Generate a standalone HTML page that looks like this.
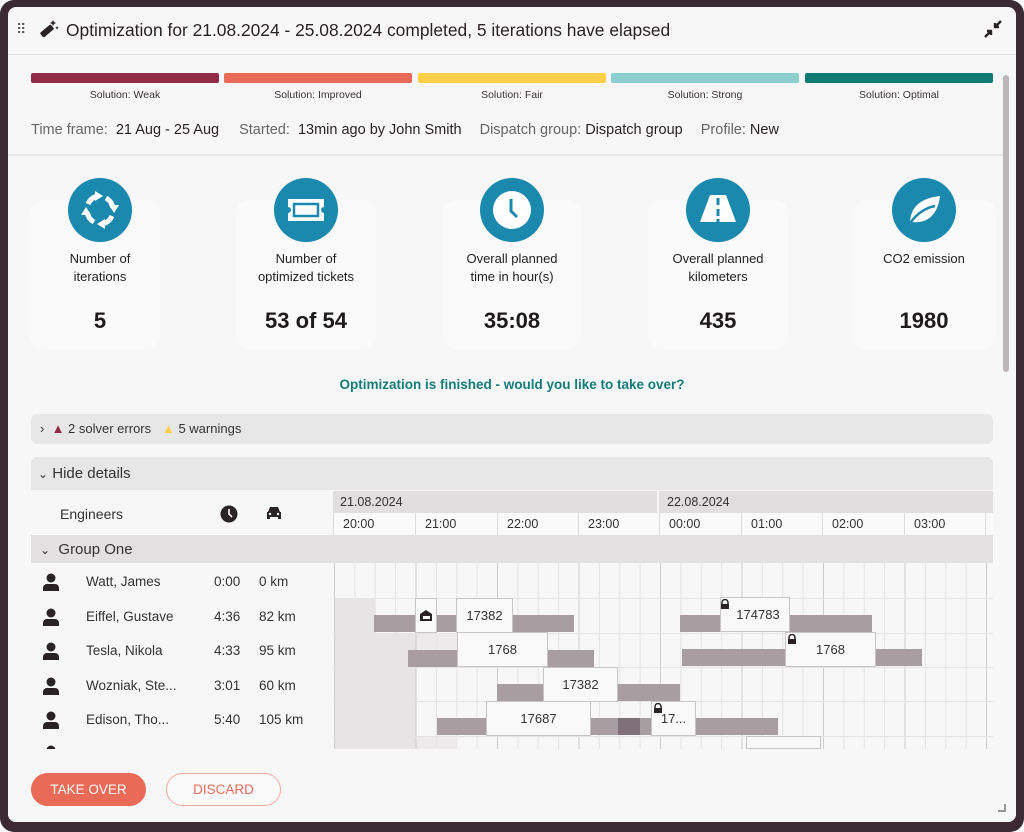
<!DOCTYPE html>
<html><head><meta charset="utf-8"><style>
*{margin:0;padding:0;box-sizing:border-box}
body{width:1024px;height:832px;background:#fff;font-family:"Liberation Sans",sans-serif;color:#2a2326;position:relative;overflow:hidden}
.frame{position:absolute;left:0;top:0;width:1024px;height:832px;background:#3b2a31;border-radius:14px}
.inner{position:absolute;left:8px;top:7px;width:1008px;height:815px;background:#f7f7f7;border-radius:8px;overflow:hidden}
.a{position:absolute}
.lg{position:absolute;top:66px;height:10px;border-radius:2px}
.ll{position:absolute;top:82px;width:188px;text-align:center;font-size:10.5px;color:#3a3236}
.card{position:absolute;top:193px;height:150px;background:#fafafa;border-radius:14px}
.circ{position:absolute;top:171px;width:64px;height:64px;border-radius:50%;background:#1a89ad}
.kl{position:absolute;top:243px;width:160px;text-align:center;font-size:13px;line-height:18px;color:#222}
.kv{position:absolute;top:301px;width:160px;text-align:center;font-size:22px;font-weight:bold;color:#1d1a1b}
.hr{position:absolute;top:510px;font-size:12.5px;color:#333}
.nm{position:absolute;font-size:13.5px;color:#333}
.box{position:absolute;background:#f9f9f9;border:1px solid #c9c4c6;font-size:13px;color:#333;text-align:center;line-height:33px;height:35px}
.bar{position:absolute;background:#a89da1;height:17px}
</style></head><body>
<div class="frame"></div>
<div class="inner">
 <div class="a" style="left:8px;top:14px;font-size:14px;color:#555;letter-spacing:-1px">⠿</div>
 <svg class="a" style="left:30px;top:12px" width="22" height="20" viewBox="0 0 22 20"><rect x="2" y="9" width="14" height="6" rx="1.5" transform="rotate(-40 9 12)" fill="#2a2326"/><path d="M15 1l1 2 2 1-2 1-1 2-1-2-2-1 2-1z" fill="#2a2326"/><path d="M19 7l.6 1.2 1.2.6-1.2.6-.6 1.2-.6-1.2-1.2-.6 1.2-.6z" fill="#2a2326"/></svg>
 <div class="a" style="left:58px;top:13px;font-size:17.4px;color:#2a2326">Optimization for 21.08.2024 - 25.08.2024 completed, 5 iterations have elapsed</div>
 <svg class="a" style="left:975px;top:12px" width="20" height="20" viewBox="0 0 20 20"><path d="M18 2l-6 6M12 4v4h4" stroke="#2a2326" stroke-width="2.4" fill="none"/><path d="M2 18l6-6M8 16v-4H4" stroke="#2a2326" stroke-width="2.4" fill="none"/></svg>
 <div class="a" style="left:0;top:47px;width:1008px;height:1px;background:#e0e0e0"></div>
 <div class="a" style="left:995px;top:68px;width:6px;height:297px;border-radius:3px;background:#bdb6b9"></div>
 <div class="lg" style="left:23px;width:188px;background:#922b48"></div>
 <div class="lg" style="left:216px;width:188px;background:#e86a57"></div>
 <div class="lg" style="left:410px;width:188px;background:#fdcf48"></div>
 <div class="lg" style="left:603px;width:188px;background:#8ccfce"></div>
 <div class="lg" style="left:797px;width:188px;background:#0f7b72"></div>
 <div class="ll" style="left:23px">Solution: Weak</div>
 <div class="ll" style="left:216px">Solution: Improved</div>
 <div class="ll" style="left:410px">Solution: Fair</div>
 <div class="ll" style="left:603px">Solution: Strong</div>
 <div class="ll" style="left:797px">Solution: Optimal</div>
 <div class="a" style="left:23px;top:115px;font-size:14.5px;color:#2a2326;white-space:nowrap"><span style="color:#666">Time frame:</span>&nbsp; 21 Aug - 25 Aug <span style="display:inline-block;width:16px"></span><span style="color:#666">Started:</span>&nbsp; 13min ago by John Smith <span style="display:inline-block;width:14px"></span><span style="color:#666">Dispatch group:</span>&nbsp;Dispatch group <span style="display:inline-block;width:14px"></span><span style="color:#666">Profile:</span>&nbsp;New</div>
 <div class="a" style="left:0;top:147px;width:995px;height:2px;background:#e8e8e8"></div>
 <div class="card" style="left:22px;width:130px"></div>
 <div class="card" style="left:228px;width:140px"></div>
 <div class="card" style="left:435px;width:138px"></div>
 <div class="card" style="left:640px;width:140px"></div>
 <div class="card" style="left:845px;width:143px"></div>
 <div class="circ" style="left:60px"><svg width="64" height="64" viewBox="0 0 64 64"><g fill="none" stroke="#fff" stroke-width="5"><path d="M20 26a14 14 0 0 1 10-8"/><path d="M38 20a14 14 0 0 1 7 10"/><path d="M44 38a14 14 0 0 1-10 8"/><path d="M26 44a14 14 0 0 1-7-10"/></g><g fill="#fff"><path d="M27 13l8 5-8 5z"/><path d="M51 27l-5 8-5-8z"/><path d="M37 51l-8-5 8-5z"/><path d="M13 37l5-8 5 8z"/></g></svg></div>
 <div class="circ" style="left:266px"><svg width="64" height="64" viewBox="0 0 64 64"><path d="M14 21h36v8a3 3 0 0 0 0 6v8H14v-8a3 3 0 0 0 0-6z" fill="#fff"/><rect x="20" y="26" width="24" height="12" fill="none" stroke="#1a89ad" stroke-width="2.5"/></svg></div>
 <div class="circ" style="left:472px"><svg width="64" height="64" viewBox="0 0 64 64"><circle cx="32" cy="32" r="19" fill="#fff"/><path d="M31 21v12l6 6" stroke="#1a89ad" stroke-width="3" fill="none"/></svg></div>
 <div class="circ" style="left:678px"><svg width="64" height="64" viewBox="0 0 64 64"><path d="M24 17h16l10 27H14z" fill="#fff"/><rect x="30.5" y="20" width="3" height="7" fill="#1a89ad"/><rect x="30.5" y="31" width="3" height="7" fill="#1a89ad"/><rect x="30.5" y="41" width="3" height="4" fill="#1a89ad"/></svg></div>
 <div class="circ" style="left:884px"><svg width="64" height="64" viewBox="0 0 64 64"><path d="M18 46c0-18 12-26 30-28-2 18-12 28-28 26z" fill="#fff"/><path d="M15 50c8-14 18-20 28-22" stroke="#1a89ad" stroke-width="2.5" fill="none"/></svg></div>
 <div class="kl" style="left:12px">Number of<br>iterations</div>
 <div class="kl" style="left:218px">Number of<br>optimized tickets</div>
 <div class="kl" style="left:424px">Overall planned<br>time in hour(s)</div>
 <div class="kl" style="left:630px">Overall planned<br>kilometers</div>
 <div class="kl" style="left:836px">CO2 emission</div>
 <div class="kv" style="left:12px">5</div>
 <div class="kv" style="left:218px">53 of 54</div>
 <div class="kv" style="left:424px">35:08</div>
 <div class="kv" style="left:630px">435</div>
 <div class="kv" style="left:836px">1980</div>
 <div class="a" style="left:0;width:1008px;top:370px;text-align:center;font-size:13.5px;font-weight:bold;color:#137c7a">Optimization is finished - would you like to take over?</div>
 <div class="a" style="left:23px;top:407px;width:962px;height:30px;background:#e7e7e7;border-radius:6px"></div>
 <div class="a" style="left:32px;top:414px;font-size:13px;color:#333;white-space:nowrap">›&nbsp; <span style="color:#922b48">▲</span> 2 solver errors &nbsp; <span style="color:#fdcf48">▲</span> 5 warnings</div>
 <div class="a" style="left:23px;top:450px;width:962px;height:33px;background:#e7e7e7;border-radius:6px 6px 0 0"></div>
 <div class="a" style="left:30px;top:458px;font-size:15px;color:#333"><span style="font-size:12px">⌄</span> Hide details</div>
 <div class="a" style="left:52px;top:499px;font-size:14px;color:#333">Engineers</div>
 <svg class="a" style="left:212px;top:498px" width="18" height="18"><circle cx="9" cy="9" r="8.5" fill="#2a2326"/><path d="M9 4v5l3 3" stroke="#fff" stroke-width="1.6" fill="none"/></svg>
 <svg class="a" style="left:257px;top:498px" width="18" height="16"><path d="M3 7l2-5h8l2 5h1v7h-3v-2H5v2H2V7z" fill="#2a2326"/><circle cx="5" cy="9" r="1.2" fill="#f7f7f7"/><circle cx="13" cy="9" r="1.2" fill="#f7f7f7"/></svg>
 <div class="a" style="left:325px;top:484px;width:660px;height:22px;background:#e0dede"></div>
 <div class="a" style="left:649px;top:484px;width:2px;height:22px;background:#f7f7f7"></div>
 <div class="a" style="left:332px;top:488px;font-size:12.5px;color:#333">21.08.2024</div>
 <div class="a" style="left:659px;top:488px;font-size:12.5px;color:#333">22.08.2024</div>
 <div class="a" style="left:325px;top:506px;width:660px;height:22px;background:#fafafa;border-left:1px solid #ddd"></div>
 <div class="hr" style="left:335px">20:00</div><div class="hr" style="left:417px">21:00</div><div class="hr" style="left:499px">22:00</div><div class="hr" style="left:580px">23:00</div><div class="hr" style="left:661px">00:00</div><div class="hr" style="left:743px">01:00</div><div class="hr" style="left:824px">02:00</div><div class="hr" style="left:906px">03:00</div>
 <svg class="a" style="left:0;top:506px" width="1008" height="22"><g stroke="#ddd"><line x1="407.5" y1="0" x2="407.5" y2="22"/><line x1="489.5" y1="0" x2="489.5" y2="22"/><line x1="570.5" y1="0" x2="570.5" y2="22"/><line x1="651.5" y1="0" x2="651.5" y2="22"/><line x1="733.5" y1="0" x2="733.5" y2="22"/><line x1="814.5" y1="0" x2="814.5" y2="22"/><line x1="896.5" y1="0" x2="896.5" y2="22"/><line x1="977.5" y1="0" x2="977.5" y2="22"/></g></svg>
 <div class="a" style="left:23px;top:528px;width:962px;height:28px;background:#e2e0e0"></div>
 <div class="a" style="left:32px;top:534px;font-size:15px;color:#333"><span style="font-size:12px">⌄</span>&nbsp; Group One</div>
 <svg class="a" style="left:325px;top:556px" width="660" height="186">
  <defs>
   <pattern id="q" patternUnits="userSpaceOnUse" x="1" y="0" width="20.375" height="186"><rect x="0" y="0" width="1" height="186" fill="#e4e4e4"/></pattern>
   <pattern id="h" patternUnits="userSpaceOnUse" x="1" y="0" width="81.5" height="186"><rect x="0" y="0" width="1" height="186" fill="#cdcdcd"/></pattern>
  </defs>
  <rect x="1" y="35" width="41" height="151" fill="#e6e4e5"/>
  <rect x="42" y="70" width="41" height="116" fill="#e6e4e5"/>
  <rect x="83" y="70" width="40" height="35" fill="#eceaeb"/>
  <rect x="83" y="173" width="40" height="13" fill="#eceaeb"/>
  <rect x="0" y="0" width="660" height="186" fill="url(#q)"/>
  <rect x="0" y="0" width="660" height="186" fill="url(#h)"/>
  <g stroke="#e4e4e4"><line x1="0" y1="35.5" x2="660" y2="35.5"/><line x1="0" y1="70.5" x2="660" y2="70.5"/><line x1="0" y1="104.5" x2="660" y2="104.5"/><line x1="0" y1="138.5" x2="660" y2="138.5"/><line x1="0" y1="173.5" x2="660" y2="173.5"/></g>
 </svg>
 <div class="bar" style="left:366px;top:608px;width:200px"></div>
 <div class="box" style="left:407px;top:591px;width:22px;line-height:30px"><svg width="14" height="14" viewBox="0 0 14 14" style="vertical-align:middle"><path d="M1 6l6-4 6 4v7H1z" fill="#2a2326"/><rect x="4" y="8" width="7" height="3" fill="#fff"/></svg></div>
 <div class="box" style="left:448px;top:591px;width:57px">17382</div>
 <div class="bar" style="left:672px;top:608px;width:192px"></div>
 <div class="box" style="left:712px;top:590px;width:70px;padding-left:6px">174783</div>
 <div class="bar" style="left:400px;top:643px;width:186px"></div>
 <div class="box" style="left:449px;top:625px;width:91px">1768</div>
 <div class="bar" style="left:674px;top:642px;width:240px"></div>
 <div class="box" style="left:777px;top:625px;width:91px">1768</div>
 <div class="bar" style="left:489px;top:677px;width:183px"></div>
 <div class="box" style="left:535px;top:660px;width:75px">17382</div>
 <div class="bar" style="left:429px;top:711px;width:229px"></div>
 <div class="bar" style="left:610px;top:711px;width:22px;background:#7f7177"></div>
 <div class="box" style="left:478px;top:694px;width:105px">17687</div>
 <div class="bar" style="left:687px;top:711px;width:83px"></div>
 <div class="box" style="left:643px;top:694px;width:45px">17...</div>
 <div class="box" style="left:738px;top:729px;width:75px;height:13px"></div>
 <svg class="a" style="left:712px;top:592px" width="10" height="10"><path d="M2 5V3.5a3 3 0 0 1 6 0V5" stroke="#2a2326" stroke-width="1.5" fill="none"/><rect x="1" y="5" width="8" height="5" fill="#2a2326"/></svg>
 <svg class="a" style="left:779px;top:627px" width="10" height="10"><path d="M2 5V3.5a3 3 0 0 1 6 0V5" stroke="#2a2326" stroke-width="1.5" fill="none"/><rect x="1" y="5" width="8" height="5" fill="#2a2326"/></svg>
 <svg class="a" style="left:645px;top:696px" width="10" height="10"><path d="M2 5V3.5a3 3 0 0 1 6 0V5" stroke="#2a2326" stroke-width="1.5" fill="none"/><rect x="1" y="5" width="8" height="5" fill="#2a2326"/></svg>
 <div id="eng"></div>
 <script>
 (function(){var d=[["Watt, James","0:00","0 km"],["Eiffel, Gustave","4:36","82 km"],["Tesla, Nikola","4:33","95 km"],["Wozniak, Ste...","3:01","60 km"],["Edison, Tho...","5:40","105 km"]],s='';
 d.forEach(function(r,i){var y=566+i*34.5;s+='<svg class="a" style="left:34px;top:'+(y)+'px" width="18" height="18"><circle cx="9" cy="5" r="4.5" fill="#2a2326"/><path d="M1 18v-3a4 4 0 0 1 4-4h8a4 4 0 0 1 4 4v3z" fill="#2a2326"/></svg>';
 s+='<div class="nm" style="left:78px;top:'+(y+1)+'px">'+r[0]+'</div><div class="nm" style="left:206px;top:'+(y+1)+'px">'+r[1]+'</div><div class="nm" style="left:251px;top:'+(y+1)+'px">'+r[2]+'</div>';});
 s+='<svg class="a" style="left:34px;top:738px" width="18" height="4"><circle cx="9" cy="5" r="4.5" fill="#2a2326"/></svg>';
 document.getElementById('eng').innerHTML=s;})();
 </script>
 <div class="a" style="left:0;top:742px;width:1008px;height:80px;background:#f7f7f7"></div>
 <div class="a" style="left:23px;top:766px;width:115px;height:33px;border-radius:17px;background:#e86a57;color:#fff;font-size:13.5px;text-align:center;line-height:33px">TAKE OVER</div>
 <div class="a" style="left:158px;top:766px;width:115px;height:33px;border-radius:17px;border:1px solid #f0a99d;color:#e86a57;font-size:13.5px;text-align:center;line-height:31px;background:#fafafa">DISCARD</div>
 <div class="a" style="left:990px;top:797px;width:8px;height:8px;border-right:2px solid #999;border-bottom:2px solid #999"></div>
</div>
</body></html>
